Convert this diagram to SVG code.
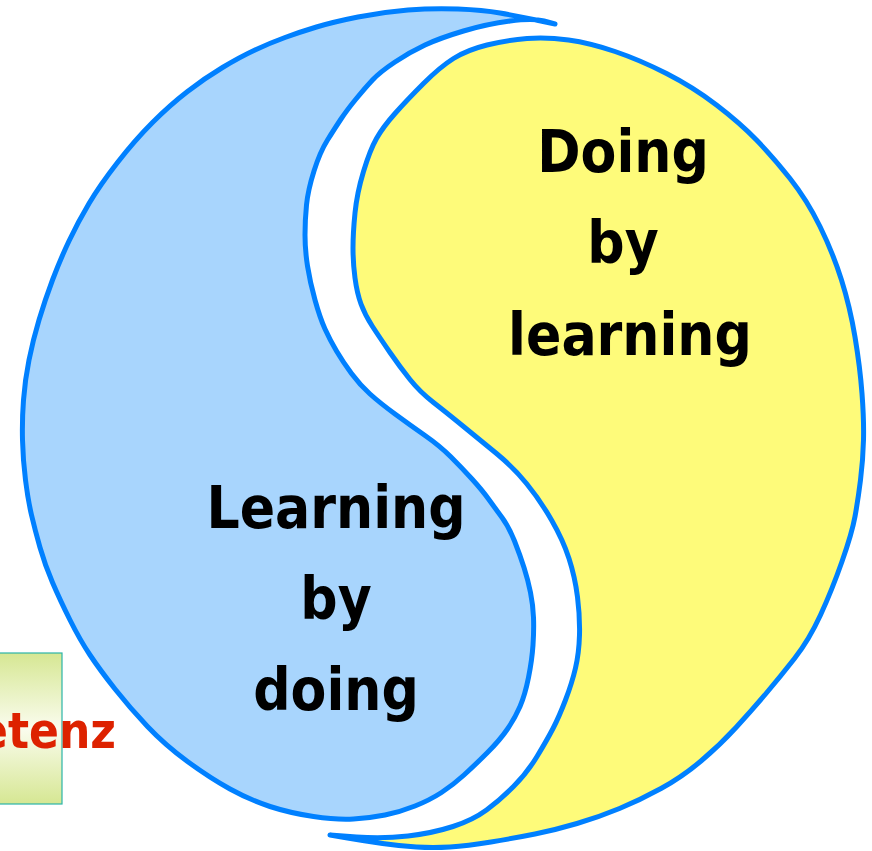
<svg xmlns="http://www.w3.org/2000/svg" width="872" height="851" viewBox="0 0 872 851">
  <defs>
    <linearGradient id="boxGrad" x1="0" y1="0" x2="0" y2="1">
      <stop offset="0" stop-color="#D6E793"/>
      <stop offset="0.5" stop-color="#FAFCEE"/>
      <stop offset="1" stop-color="#D6E793"/>
    </linearGradient>
    <style>
      .shape { stroke: #0080FF; stroke-width: 5; stroke-linejoin: round; stroke-linecap: round; }
      .blue { fill: #A8D5FD; }
      .yellow { fill: #FEFB7A; }
      .label { font-family: "DejaVu Sans Condensed", "DejaVu Sans", sans-serif; font-weight: bold; font-size: 58px; fill: #000000; text-anchor: middle; }
      .red { font-family: "DejaVu Sans Condensed", "DejaVu Sans", sans-serif; font-weight: bold; font-size: 49px; fill: #DD2200; text-anchor: end; }
    </style>
  </defs>
  <rect width="872" height="851" fill="#FFFFFF"/>

  <g id="box">
    <rect x="-40" y="653" width="102" height="151" fill="url(#boxGrad)" stroke="#2BB5A8" stroke-width="1.2"/>
    <text class="red" x="116" y="748">etenz</text>
  </g>

  <g id="blue-half">
    <path class="shape blue" d="M555,24 L536,20 Q517,16 500,13 Q483,10 458,9 Q433,8 408,10 Q383,12 358,17 Q333,22 316.5,27 Q300,32 285,37.5 Q270,43 255,50 Q240,57 222.5,67.5 Q205,78 187.5,91.5 Q170,105 152.5,122.5 Q135,140 117.5,162.5 Q100,185 89,203.5 Q78,222 69,241 Q60,260 52.5,280 Q45,300 39,320 Q33,340 29,360 Q25,380 23.5,400 Q22,420 22.5,440 Q23,460 25.5,480 Q28,500 31.5,515 Q35,530 40,547.5 Q45,565 52.5,582.5 Q60,600 70,620 Q80,640 90,655 Q100,670 115,689 Q130,708 147.5,726.5 Q165,745 187.5,761.5 Q210,778 230,789 Q250,800 270,806.5 Q290,813 313.5,816.5 Q337,820 353.5,819 Q370,818 385,815 Q400,812 415,806 Q430,800 441.5,792.5 Q453,785 464,775 Q475,765 487.5,752.5 Q500,740 507.5,729 Q515,718 520,706.5 Q525,695 528.5,677.5 Q532,660 533,645 Q534,630 533.5,617.5 Q533,605 530.5,592.5 Q528,580 524,567.5 Q520,555 514.5,541 Q509,527 502,517.5 Q495,508 488.5,499 Q482,490 472,479 Q462,468 451,457 Q440,446 425,435.5 Q410,425 395,414 Q380,403 370,394 Q360,385 351.5,373.5 Q343,362 336.5,351 Q330,340 325,329 Q320,318 315,300 Q310,282 307.5,266 Q305,250 305,235 Q305,220 306.5,205 Q308,190 314,171 Q320,152 327.5,140 Q335,128 341,119 Q347,110 356,99 Q365,88 372.5,80 Q380,72 395,62 Q410,52 425,45 Q440,38 463.5,31 Q487,24 510,21 Q533,18 544,21 L555,24 Z"/>
    <text class="label" x="336" y="528">Learning</text>
    <text class="label" x="336" y="619">by</text>
    <text class="label" x="336" y="710">doing</text>
  </g>

  <g id="yellow-half">
    <path class="shape yellow" d="M330,835 L356.5,837 Q383,839 408,836 Q433,833 453,826.5 Q473,820 486.5,810 Q500,800 513.5,786.5 Q527,773 537,756.5 Q547,740 553,728.5 Q559,717 565.5,700 Q572,683 575.5,668 Q579,653 579.5,635 Q580,617 577.5,597 Q575,577 569,558.5 Q563,540 551.5,520 Q540,500 526.5,483.5 Q513,467 496.5,453.5 Q480,440 463.5,426.5 Q447,413 433.5,402.5 Q420,392 410,379.5 Q400,367 390,352.5 Q380,338 372.5,326.5 Q365,315 361,304 Q357,293 355,278 Q353,263 353,248 Q353,233 355,213 Q357,193 363.5,171.5 Q370,150 376.5,138.5 Q383,127 395,113.5 Q407,100 423.5,83.5 Q440,67 453.5,58.5 Q467,50 487,45 Q507,40 527,38.5 Q547,37 568.5,40 Q590,43 615,51.5 Q640,60 666.5,73.5 Q693,87 716.5,105 Q740,123 756.5,140 Q773,157 790,178.5 Q807,200 820,226.5 Q833,253 841.5,280 Q850,307 855,337 Q860,367 862,393.5 Q864,420 863.5,440 Q863,460 860.5,480 Q858,500 855,516.5 Q852,533 842,561.5 Q832,590 820.5,615 Q809,640 794.5,658.5 Q780,677 766,693.5 Q752,710 736,727.5 Q720,745 701,761 Q682,777 661,788.5 Q640,800 619.5,808.5 Q599,817 577,823.5 Q555,830 535,834 Q515,838 491,842 Q467,846 450,847 Q433,848 416.5,847 Q400,846 382.5,843.5 Q365,841 347.5,838 L330,835 Z"/>
    <text class="label" x="623" y="172">Doing</text>
    <text class="label" x="623" y="263">by</text>
    <text class="label" x="630" y="355">learning</text>
  </g>
</svg>
